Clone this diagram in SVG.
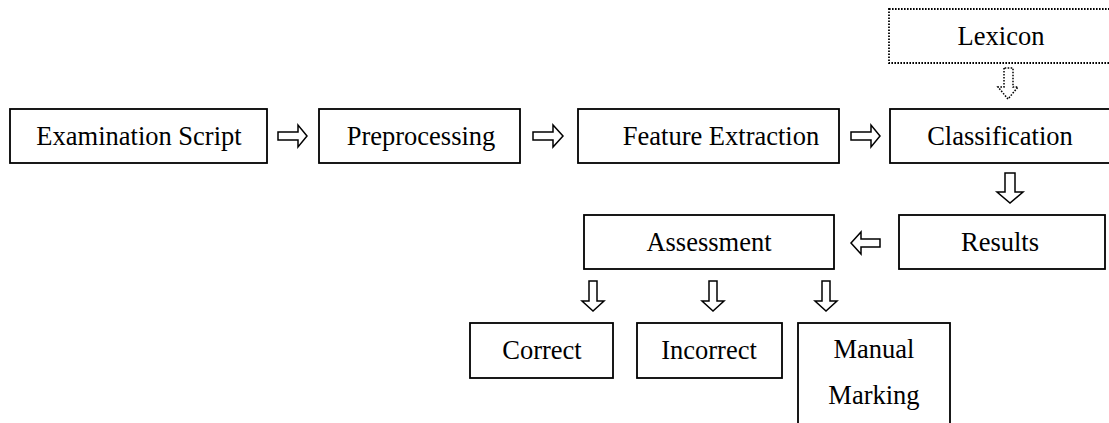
<svg xmlns="http://www.w3.org/2000/svg" width="1109" height="423" viewBox="0 0 1109 423">
<style>
.box{fill:#fff;stroke:#000;stroke-width:1.8}
.dot{fill:#fff;stroke:#000;stroke-width:1.8;stroke-dasharray:1.6 1.4}
.arr{fill:#fff;stroke:#000;stroke-width:1.5;stroke-linejoin:miter}
.arrd{fill:#fff;stroke:#000;stroke-width:1.5;stroke-dasharray:1.6 1.4}
text{font-family:"Liberation Serif","Times New Roman",serif;font-size:26.5px;fill:#000;text-anchor:middle}
</style>
<rect width="1109" height="423" fill="#fff"/>
<g id="lexicon"><rect class="dot" x="889" y="9" width="230" height="54"/><text x="1001" y="45">Lexicon</text></g>
<g id="examination-script"><rect class="box" x="10" y="109" width="257" height="54"/><text x="139" y="145">Examination Script</text></g>
<g id="preprocessing"><rect class="box" x="319" y="109" width="201" height="54"/><text x="421" y="145">Preprocessing</text></g>
<g id="feature-extraction"><rect class="box" x="578" y="109" width="261" height="54"/><text x="721" y="145">Feature Extraction</text></g>
<g id="classification"><rect class="box" x="890" y="109" width="230" height="54"/><text x="1000" y="145">Classification</text></g>
<g id="results"><rect class="box" x="899" y="215" width="206" height="54"/><text x="1000" y="251">Results</text></g>
<g id="assessment"><rect class="box" x="584" y="215" width="250" height="54"/><text x="709" y="251">Assessment</text></g>
<g id="correct"><rect class="box" x="470" y="323" width="143" height="55"/><text x="542" y="359">Correct</text></g>
<g id="incorrect"><rect class="box" x="637" y="323" width="145" height="55"/><text x="709" y="359">Incorrect</text></g>
<g id="manual-marking"><rect class="box" x="798" y="323" width="152" height="120"/><text x="874" y="358">Manual</text><text x="874" y="404">Marking</text></g>
<g id="connectors">
<path class="arrd" d="M1004,68 V87 H998 L1008,99 L1018,87 H1013 V68 Z"/>
<path class="arr" d="M278,132 H298 V125 L307,136 L298,147 V140 H278 Z"/>
<path class="arr" d="M533,132 H553 V125 L563,136 L553,147 V140 H533 Z"/>
<path class="arr" d="M851,132 H871 V125 L880,136 L871,147 V140 H851 Z"/>
<path class="arr" d="M1005,173 V192 H997 L1010,203 L1023,192 H1015 V173 Z"/>
<path class="arr" d="M880,239 H861 V232 L851,243 L861,254 V247 H880 Z"/>
<path class="arr" d="M589,281 V301 H582 L593,311 L604,301 H597 V281 Z"/>
<path class="arr" d="M709,281 V301 H702 L713,311 L724,301 H717 V281 Z"/>
<path class="arr" d="M822,281 V301 H815 L826,311 L837,301 H830 V281 Z"/>
</g>
</svg>
